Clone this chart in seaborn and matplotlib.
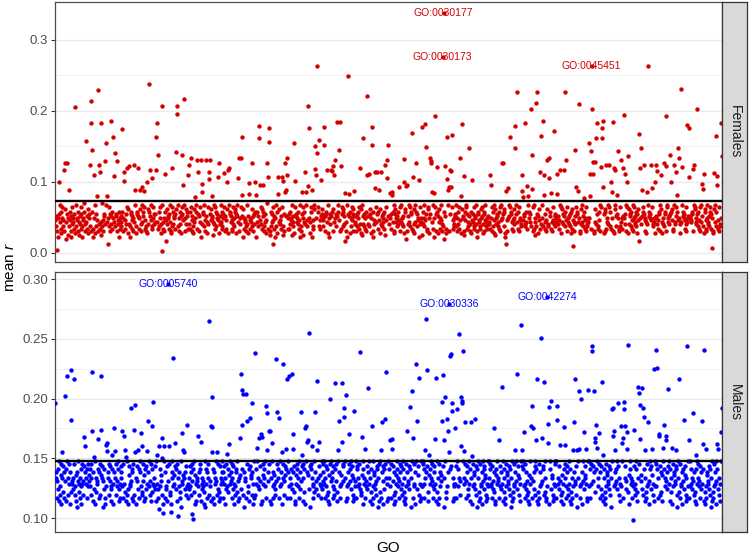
import numpy as np
import pandas as pd
import seaborn as sns
import matplotlib.pyplot as plt

# GO terms sorted by id along x, mean r on y
n_terms = 1400

# dense band below the mean line: one letter per GO term, 'a' = lowest level
fem_band = "".join("""
pmrkuqhnsw oltjqvmpkr nugolsqiwm tpkrhvnoqs lujmwpqtko inrvlsmhpq xtknwolrju
qsmpvkntrl hoqwjmsupk rtnlvoiqmx kpsrnjtwlo qemvskprnt luqojwmrsk vpnthqlmro
mtqkrwplns ovjuqnmhts rlpqkvoewm jstrplqumk nwohrtsvpl kmqjnuotrs pwlmkvqsno
sruoklpmtq vnjwrsloqk mtpfnuqrsl owkjvpmtnq rlsuhopwmk qtnrjvlspo mwqkuntrlp
nqtlsvkprm jouqnwtlms pkrvoqhnul tsmwkpqrjo nvlmstupqk roiwnlvmts qpkujrnowl
tmsqovrkpl nujqwmstro lkpvnqmtus jrwolpknqm vstruhlqop mknwrjtspl qoumvkrnst
wkhotrmsip qnvlugrtkm sopjxnlqwr ikmtosvpel rqhmwjtksu opnrlvqmit kswnpruolq
lsntqpiwor mkjvusrqot nlphwkmsrv qiotnluwpm rksqjovtnh lpmwursqko itvnmplqrs
uqpmnvrkst lowjqhnsmr tpkuvoilqs mnrwtjpkoq lsvmtunrfp kowhsnlrtj qmpvuskorn
okrsmtqvln pujwirnoms qltkvprnom usjqwlhtkp nrmovsqtlk pjuwnmroqs tlikvpnmrq
rnqvslmpto kwjusqormn tlpkvwoqnr msijtulgkq nrwomvtslq pkjnuowrts mqplhvnoqk
itnwqmpros lkvuqjsnmt rowlpqhvnk smtjrouqlp wnkvmsgtro ljpunwkrsm oqvtlpnqms
rwmkqtnvlp sojumrqnik tpwvlsmoqr nkjtuposlm vrqnwhktsp omlquvrnjt kswpmoqlnr
nolsrqvktm pjwuinqrsm otlkvpwnqr smuthjlepk qnrwvmstol pkqunjrwsm otlvkpqnmr
kvpsrnqmot ljwuqtosnm rpkvlwoqin mtsjruplok nqwvmrtslo pkujnmwqrt slokvpnqmr
soqmtnrlpw kvjuosnqrm tlwpkvqorn msjtuldpok nwrmvtsolq pkjunwomrs tqlpvknmqo
wqrnplmots kjuvoqnrsm ltpkwvqonr msjutkplqo nwvrmtsloq pkjnuwomrt sqplkvmnoq
ltrpqnmswk vojqunrsmt lpkwvqonrm tsjupkfqow nmrvtslpqk ojnuwmrtsq lpkvnmqojr
oqrmnplstk wvujonqrms tlpkvwqonr smjtuplkqw nomrvtslpq kjnuowmrts qlpkvnmoqr
mnrqpostlk wjuvqonrsm tlpkvwoqrn msjutlpkqw onrmvtslcq kjunowmrts qplkvnmoqj
""".split())
fem_band_base, fem_band_step = 0.001, 0.003
fem_mean = 0.073

# GO terms that stand out of the band (index, mean r)
fem_points = [
    (4, .004), (225, .002),
    (7, .099), (28, .089), (20, .127), (24, .126), (19, .116), (41, .205), (64, .158),
    (73, .123), (74, .183), (76, .214), (78, .144), (81, .110), (90, .229), (87, .080),
    (91, .123), (94, .113), (97, .182), (105, .129), (106, .154), (108, .080), (116, .185),
    (121, .163), (124, .108), (125, .140), (130, .129), (140, .174), (144, .113), (145, .101),
    (150, .120), (154, .122), (165, .124), (167, .088), (174, .120), (178, .088), (183, .093),
    (186, .087), (192, .099), (196, .237), (199, .117), (204, .105), (211, .163), (214, .182),
    (216, .137), (212, .117), (224, .206), (230, .111), (245, .120), (255, .195), (256, .206),
    (254, .142), (266, .137), (270, .216), (269, .096), (279, .110), (281, .124), (284, .133),
    (294, .079), (300, .113), (298, .130), (305, .130), (309, .086), (308, .097), (316, .130),
    (322, .114), (323, .104), (325, .131), (329, .080), (342, .106), (343, .127), (354, .112),
    (360, .100), (363, .117), (365, .119), (385, .133), (389, .133), (391, .163), (384, .105),
    (392, .082), (406, .083), (407, .098), (414, .126), (420, .100), (421, .081), (427, .162),
    (428, .178), (430, .095), (435, .095), (445, .127), (448, .156), (449, .176), (447, .106),
    (468, .106), (467, .083), (476, .107), (479, .101), (483, .127), (486, .133), (484, .088),
    (487, .109), (482, .086), (501, .155), (504, .101), (518, .085), (525, .114), (526, .086),
    (531, .206), (532, .176), (530, .094), (538, .089), (545, .150), (549, .141), (553, .159),
    (546, .118), (548, .109), (557, .103), (564, .177), (565, .152), (570, .117), (578, .117),
    (581, .115), (587, .131), (584, .122), (586, .110), (591, .184), (598, .184), (595, .145),
    (599, .122), (609, .084), (615, .249), (616, .083), (627, .087), (640, .119), (647, .161),
    (655, .221), (654, .109), (658, .111), (664, .177), (665, .152), (671, .114), (672, .091),
    (676, .114), (679, .089), (683, .113), (693, .124), (696, .130), (697, .105), (699, .151),
    (703, .084), (550, .263), (706, .086), (707, .082), (721, .093), (731, .132), (732, .100),
    (736, .094), (739, .095), (749, .169), (750, .106), (757, .127), (763, .103), (769, .177),
    (777, .181), (778, .149), (787, .133), (788, .126), (789, .129), (790, .085), (794, .084),
    (798, .192), (801, .121), (813, .275), (815, .338), (819, .122), (822, .163), (823, .104),
    (824, .089), (827, .092), (830, .093), (829, .117), (831, .115), (833, .166), (850, .134),
    (851, .080), (854, .181), (857, .108), (868, .148), (874, .102), (913, .109), (914, .096),
    (937, .127), (939, .127), (946, .087), (951, .091), (955, .163), (965, .178), (966, .147),
    (969, .227), (979, .110), (980, .087), (981, .079), (986, .183), (991, .094), (993, .080),
    (998, .203), (1000, .137), (1001, .090), (1009, .211), (1011, .227), (1019, .165),
    (1023, .186), (1018, .113), (1025, .110), (1026, .081), (1033, .131), (1037, .133),
    (1036, .105), (1040, .084), (1047, .172), (1053, .083), (1054, .111), (1060, .116),
    (1067, .117), (1071, .227), (1072, .130), (1091, .144), (1093, .092), (1098, .087),
    (1100, .209), (1109, .077), (1120, .155), (1122, .080), (1127, .202), (1124, .143),
    (1123, .111), (1128, .111), (1126, .263), (1129, .128), (1133, .128), (1135, .161),
    (1137, .182), (1147, .175), (1148, .162), (1149, .186), (1146, .121), (1156, .124),
    (1163, .123), (1150, .093), (1166, .100), (1168, .085), (1170, .184), (1173, .120),
    (1176, .117), (1179, .082), (1182, .143), (1187, .130), (1191, .120), (1193, .194),
    (1196, .111), (1201, .099), (1203, .136), (1225, .167), (1228, .119), (1229, .147),
    (1231, .089), (1243, .086), (1236, .124), (1250, .123), (1260, .123), (1245, .263),
    (1252, .091), (1259, .100), (1263, .115), (1271, .109), (1277, .126), (1281, .122),
    (1282, .192), (1291, .137), (1292, .100), (1298, .124), (1302, .114), (1306, .081),
    (1307, .147), (1310, .134), (1316, .121), (1313, .230), (1326, .180), (1331, .175),
    (1330, .106), (1338, .118), (1341, .124), (1347, .203), (1357, .097), (1359, .090),
    (1361, .111), (1383, .112), (1390, .108), (1387, .165), (1389, .095), (1397, .182),
    (1399, .136),
]
fem_labels = [(815, "GO:0030177"), (813, "GO:0030173"), (1126, "GO:0045451")]

male_band = "".join("""
rtvmswplzq nyuktroxmv sqwlpzntry kvmoxsrtpw ynqlujvszr omtwkqyrsn pxvltrmwqy
uswqnytrmv lxpzkotsrw qmvnyulrtx jspwkmzqfo tvnysxlqpw mrkuvotyns qwzlpmrtxv
vqmytrsowl nzkpuxqrts vmwlyonrqt ksxpjmwzvr qtnosyulwm pxrkvtqzsn ylowmrvqtp
xzlrvpmtiq wsuynokrtz vmpqxlswry nokhtzvqmu rsxwplytnv qomzjsrkuw ytvpnxqlrm
tpxqnvsryw mozkulrtsq xvnwymlprt qsokzjrwmv ytnpqsxlru owmkvrtzsn qpyolxmrtv
zsmvrxktpy qnowlurzvs mtypxkrqnw vzoslmtuyr pqxwnkvjst zmryoqlwxp tuvnsrkmzq
nwryzqtpmx svkolyurtw zqnmpxvsry lotkwzqmvu rpnxsyjtwo mqzvrkltyp snuxwqrmvz
yqtmwrpzsv nxolkurywt qmzvpnsxrl tyowkmqzvr unpsxjywlt rqmozvkspy wntxlurqmz
pvsyzrmtqx wnlokuyrzs tvmqxpnwry slozktvmqu rwpyxsnjtz olmqvrkysw pzuxntlrmq
smzxwqtryp vnoluzkwrt ymqsxpvnzr ltowkymqzu vrpsnxwjty lozmqrvksx wpyuntrlzm
wtqrympzxs nvkolurzwt qsmyvxpnrw zotlkmqyvu rspxwntjzo lmyqrvkszw pxutnrlmzq
qyzrmwtpsv xnolkuwrzt ysmqvpxnrw loztkmyqvu srpwxnjtzl omqyrvkswz pxuntlrmqz
rmxyzwqtps nvloukzrwt qysmvxpnzr wlotkmqyvu rspxnwjtzo lymqrvkzsw xputnlrmqz
tzywqrmxps vnolkuwzrt symqxvpnrz lwotkmyqvu srxpwntjzl omyqrkvszw pxuntrlmzq
xwzqtrympv snolkuzrwt qmysvpxnzr wltokymqvu rspxwnjtzo lmqyrvkswz xputnlmrqz
yzmwqtrpxs vnloukrzwt ysqmxvpnrz lwoktmyqvu srpxnwjtzl omqyrkvszw pxutnrlmzq
zqwmyrtpsx nvolkuwrzt qysmvpxnzr lwtokmqyuv rsxpwntjzo lymqrvkswz pxuntlrmqz
wmzyqrtxps vnolkuzwrt smyqxvpnrz wlotkymqvu srpxnwjtzl omyqrvkszw xputnrlmzq
qrywzmtpsx nvoluzkrwt qsmyvpxnzr lwotkmqyvu rspxwnjtzo lmyqrkvswz pxuntlrmqz
myzqwrtpxs vnolkuwzrt ysqmxvpnrz wltokmyqvu srpxnwjtzl omqyrvkszw xputnrlmzq
""".split())
male_band_base, male_band_step = 0.088, 0.0024
male_mean = 0.1475

male_points = [
    (227, .104), (258, .102), (287, .103), (290, .099), (1212, .098),
    (0, .196), (21, .202), (24, .219), (32, .224), (39, .216), (34, .182), (15, .155),
    (60, .168), (63, .160), (77, .222), (78, .173), (81, .151), (90, .166), (97, .174),
    (96, .219), (108, .163), (106, .161), (109, .156), (123, .175), (125, .156), (120, .153),
    (140, .173), (144, .169), (146, .157), (148, .151), (158, .192), (167, .195), (165, .174),
    (168, .155), (174, .157), (179, .171), (181, .160), (195, .181), (193, .156), (204, .177),
    (206, .197), (217, .160), (214, .153), (223, .150), (225, .167), (228, .160), (237, .296),
    (238, .160), (248, .234), (251, .163), (267, .171), (269, .157), (270, .155), (277, .178),
    (300, .169), (305, .164), (323, .265), (328, .201), (326, .177), (330, .176), (329, .155),
    (340, .155), (361, .154), (364, .162), (389, .221), (391, .207), (395, .204), (400, .204),
    (392, .178), (388, .167), (402, .181), (409, .184), (414, .196), (419, .238), (423, .159),
    (428, .167), (431, .170), (433, .168), (442, .194), (445, .188), (444, .157), (448, .173),
    (451, .173), (454, .163), (463, .233), (479, .229), (466, .189), (469, .184), (476, .155),
    (486, .216), (490, .219), (497, .221), (485, .158), (498, .170), (500, .158), (515, .189),
    (518, .153), (525, .175), (526, .177), (529, .164), (531, .165), (533, .255), (538, .160),
    (546, .189), (550, .215), (549, .157), (554, .164), (577, .200), (588, .213), (602, .213),
    (595, .181), (594, .157), (601, .164), (606, .185), (607, .192), (610, .203), (616, .170),
    (627, .190), (640, .239), (643, .168), (650, .158), (657, .209), (665, .177), (685, .180),
    (693, .183), (684, .157), (694, .222), (703, .165), (706, .166), (707, .158), (739, .173),
    (745, .193), (749, .206), (750, .167), (757, .229), (759, .181), (763, .217), (778, .267),
    (777, .157), (781, .224), (784, .153), (797, .166), (799, .217), (813, .220), (811, .181),
    (815, .165), (812, .197), (819, .201), (823, .183), (824, .173), (826, .155), (827, .279),
    (830, .237), (829, .236), (832, .196), (833, .190), (839, .175), (843, .191), (851, .201),
    (853, .196), (854, .198), (848, .254), (855, .240), (852, .160), (858, .156), (860, .180),
    (872, .180), (881, .183), (875, .152), (921, .175), (931, .165), (937, .210), (965, .157),
    (979, .157), (969, .221), (977, .262), (984, .172), (998, .177), (1002, .175), (1000, .194),
    (1009, .165), (1012, .216), (1022, .167), (1026, .214), (1019, .251), (1033, .285),
    (1034, .179), (1035, .163), (1037, .193), (1040, .198), (1053, .194), (1054, .182),
    (1060, .161), (1071, .161), (1067, .176), (1086, .157), (1095, .157), (1099, .158),
    (1089, .180), (1092, .216), (1100, .206), (1103, .200), (1119, .207), (1130, .206),
    (1109, .172), (1114, .158), (1126, .244), (1127, .240), (1135, .178), (1133, .167),
    (1134, .164), (1137, .159), (1142, .171), (1148, .214), (1149, .153), (1169, .191),
    (1170, .192), (1182, .196), (1193, .197), (1194, .191), (1172, .173), (1171, .169),
    (1176, .157), (1187, .177), (1195, .177), (1201, .172), (1190, .163), (1192, .167),
    (1200, .158), (1203, .245), (1215, .174), (1224, .210), (1231, .209), (1226, .205),
    (1227, .195), (1233, .192), (1236, .185), (1245, .180), (1228, .166), (1238, .157),
    (1253, .158), (1257, .225), (1264, .226), (1261, .241), (1267, .169), (1268, .170),
    (1277, .178), (1276, .159), (1282, .169), (1283, .165), (1287, .208), (1295, .159),
    (1302, .157), (1310, .216), (1319, .182), (1326, .244), (1331, .165), (1338, .188),
    (1345, .153), (1357, .181), (1359, .162), (1362, .241), (1366, .158), (1390, .162),
    (1392, .158), (1397, .172), (1399, .192),
]
male_labels = [(237, "GO:0005740"), (827, "GO:0030336"), (1033, "GO:0042274")]


def panel_frame(band, base, step, points):
    r = np.array([base + (ord(c) - 97) * step for c in band[:n_terms]])
    for i, v in points:
        r[i] = v
    return pd.DataFrame({"GO": np.arange(len(r)), "r": r})


sns.set_style("white")
plt.rcParams["font.family"] = ["Liberation Sans", "DejaVu Sans"]
plt.rcParams["mathtext.fontset"] = "custom"
plt.rcParams["mathtext.rm"] = "Liberation Sans"
plt.rcParams["mathtext.it"] = "Liberation Sans:italic"

W, H = 749, 558
fig = plt.figure(figsize=(W / 100, H / 100), dpi=100)

panels = [
    ("Females", panel_frame(fem_band, fem_band_base, fem_band_step, fem_points),
     fem_mean, fem_labels, "#d40000", (-0.013, 0.353),
     [0.0, 0.1, 0.2, 0.3], [0.05, 0.15, 0.25], "{:.1f}", 2),
    ("Males", panel_frame(male_band, male_band_base, male_band_step, male_points),
     male_mean, male_labels, "#0000ff", (0.0883, 0.306),
     [0.10, 0.15, 0.20, 0.25, 0.30], [0.125, 0.175, 0.225, 0.275], "{:.2f}", 272),
]

left, right = 55, 722
for name, df, mean, labels, colour, ylim, major, minor, fmt, top in panels:
    ax = fig.add_axes([left / W, 1 - (top + 260) / H, (right - left) / W, 260 / H])
    sns.scatterplot(data=df, x="GO", y="r", color=colour, s=10, linewidth=0,
                    ax=ax, zorder=3)
    ax.axhline(mean, color="black", lw=1.7, zorder=4)
    for i, lab in labels:
        ax.text(i, df.loc[i, "r"], lab, color=colour, fontsize=7.5,
                ha="center", va="center", zorder=5)
    ax.set_xlim(-0.6, n_terms - 0.4)
    ax.set_ylim(*ylim)
    ax.set_yticks(major)
    ax.set_yticklabels([fmt.format(t) for t in major])
    ax.set_yticks(minor, minor=True)
    ax.set_xticks([])
    ax.grid(which="major", axis="y", color="#ebebeb", lw=1.0)
    ax.grid(which="minor", axis="y", color="#f0f0f0", lw=0.6)
    ax.set_axisbelow(True)
    ax.tick_params(axis="y", which="major", length=3, width=0.8, color="#333333",
                   labelsize=9.5, labelcolor="#4d4d4d", pad=2, left=True)
    ax.tick_params(axis="y", which="minor", length=0)
    ax.set_xlabel("")
    ax.set_ylabel("")
    for sp in ax.spines.values():
        sp.set_color("#4d4d4d")
        sp.set_linewidth(0.9)

    strip = fig.add_axes([right / W, 1 - (top + 260) / H, 25 / W, 260 / H])
    strip.set_facecolor("#d9d9d9")
    strip.set_xticks([])
    strip.set_yticks([])
    for sp in strip.spines.values():
        sp.set_color("#333333")
        sp.set_linewidth(0.9)
    strip.text(0.5, 0.5, name, rotation=-90, ha="center", va="center",
               fontsize=10, color="#1a1a1a", transform=strip.transAxes)

fig.text(10 / W, 1 - 267 / H, "mean $r$", rotation=90, ha="center", va="center",
         fontsize=11, color="black")
fig.text((left + right) / 2 / W, 1 - 548 / H, "GO", ha="center", va="center",
         fontsize=11, color="black")

fig.savefig("out.png", dpi=100)
